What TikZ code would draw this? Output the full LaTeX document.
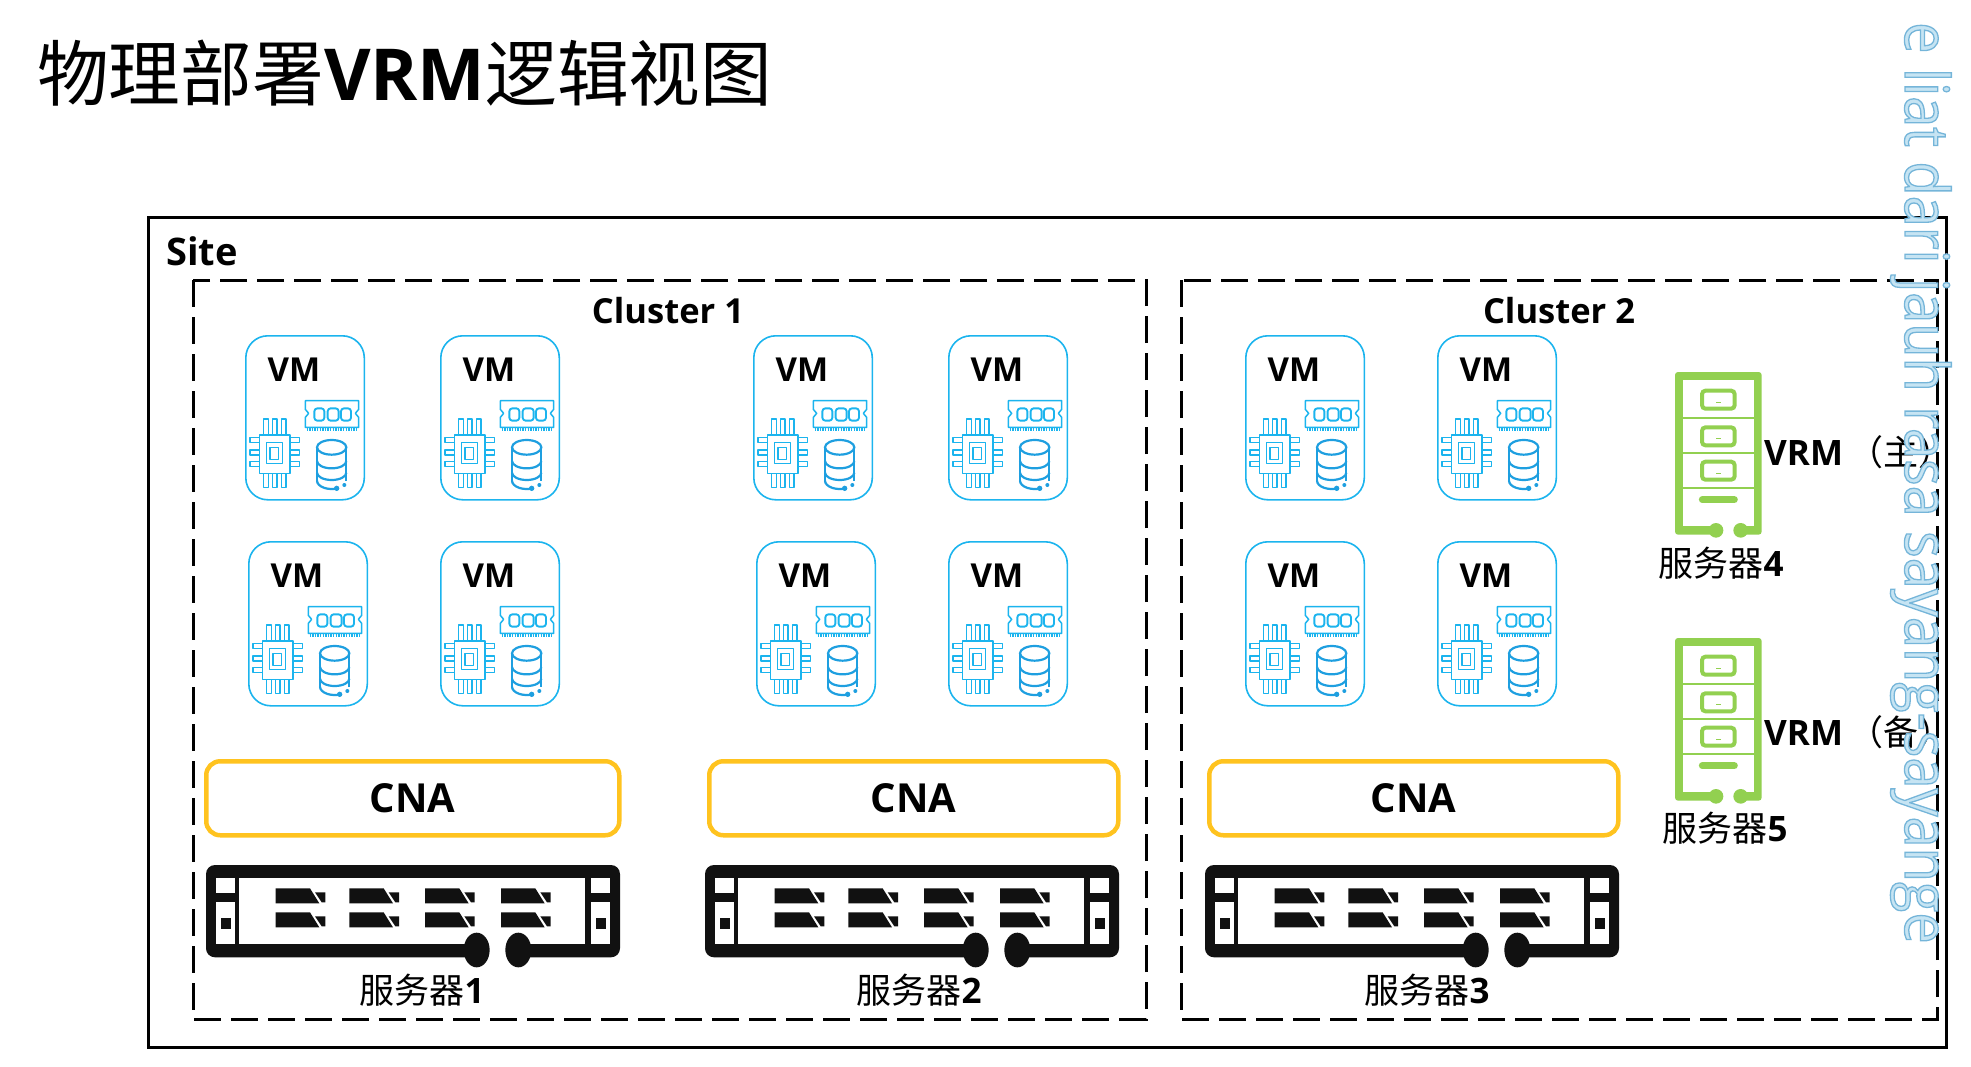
\documentclass[tikz,border=0pt]{standalone}
\usepackage{fontspec}
\setmainfont{Open Sans}
\newfontfamily\cjk{Noto Sans CJK SC}
\newfontfamily\wmfont[FakeStretch=0.915]{Open Sans}
\definecolor{vmcyan}{HTML}{1BB4EE}
\definecolor{dbblue}{HTML}{1E9FE0}
\definecolor{cnaorange}{HTML}{FFC31F}
\definecolor{srvgreen}{HTML}{92D050}
\definecolor{srvblack}{HTML}{111111}
\definecolor{wmfill}{HTML}{C6E4F3}
\newcommand{\fs}[1]{\fontsize{#1}{#1}\selectfont}
\tikzset{
  zoomed/.style={x=0.33333pt,y=-0.33333pt,shift={(#1)}},
  ic/.style={draw=vmcyan,line width=1.5pt,line join=round},
  dbl/.style={draw=dbblue,line width=2.2pt},
  lbl/.style={inner sep=0pt,text=black},
  bl/.style={lbl,font=\fs{#1}\bfseries},
  cj/.style={lbl,font=\fs{#1}\cjk},
  sitebox/.style={draw=black,line width=3pt},
  clusterbox/.style={draw=black,line width=3pt,dash pattern=on 27pt off 10pt},
  cnabox/.style={draw=cnaorange,line width=4.5pt,rounded corners=14pt,minimum width=413pt,minimum height=74pt,inner sep=0pt,anchor=north west,font=\fs{40}\bfseries},
  vmbox/.style={draw=vmcyan,line width=1.6pt,rounded corners=22pt,minimum width=118.5pt,minimum height=164pt,inner sep=0pt,anchor=north west,fill=white},
  vm/.pic={
    \begin{scope}[zoomed={-47,-45}]
      \node[vmbox] at (47,45) {};
      \node[bl=33] at (194,150) {VM};
      % cpu
      \draw[ic] (90,345) rectangle (182,460);
      \draw[ic] (112,368) rectangle (160,430);
      \draw[ic] (122,382) rectangle (148,418);
      \foreach \a/\b in {103/117,130/143,156/170}{
        \draw[ic] (\a,345) -- (\a,297) -- (\b,297) -- (\b,345);
        \draw[ic] (\a,460) -- (\a,502) -- (\b,502) -- (\b,460);
      }
      \foreach \a/\b in {352/368,390/405,425/440}{
        \draw[ic] (90,\a) -- (62,\a) -- (62,\b) -- (90,\b);
        \draw[ic] (182,\a) -- (210,\a) -- (210,\b) -- (182,\b);
      }
      % ram
      \draw[ic] (228,242) -- (388,242) -- (388,268) -- (378,280) -- (388,292) -- (388,322) -- (228,322) -- (228,292) -- (238,280) -- (228,268) -- cycle;
      \draw[draw=vmcyan,line width=3.6pt,dash pattern=on 1.4pt off 1.2pt] (232,329) -- (384,329);
      \foreach \a/\b in {255/285,295/328,335/365}{
        \draw[ic,line width=1.9pt,rounded corners=3pt] (\a,265) rectangle (\b,302);
      }
      % database
      \draw[dbl] (307,382) ellipse [x radius=44,y radius=22];
      \draw[dbl] (263,382) -- (263,482);
      \draw[dbl] (351,382) -- (351,482);
      \draw[dbl] (263,423) arc[start angle=180,end angle=0,x radius=44,y radius=22];
      \draw[dbl] (263,458) arc[start angle=180,end angle=0,x radius=44,y radius=22];
      \draw[dbl] (263,482) arc[start angle=180,end angle=70,x radius=44,y radius=25];
      \fill[dbblue] (322,505) circle[radius=8];
      \fill[dbblue] (345,495) circle[radius=6];
    \end{scope}
  },
  srv/.pic={
    \begin{scope}[zoomed={-48,-45}]
      \fill[srvblack,rounded corners=9pt] (48,45) rectangle (1290,322);
      \fill[white] (148,85) rectangle (1185,282);
      \fill[white] (78,85) rectangle (135,130);
      \fill[white] (78,155) rectangle (135,282);
      \fill[white] (1203,85) rectangle (1260,130);
      \fill[white] (1203,155) rectangle (1260,282);
      \fill[srvblack] (93,203) rectangle (122,238);
      \fill[srvblack] (1218,203) rectangle (1247,238);
      \foreach \a in {257,478,705,933}{
        \foreach \b in {0,72}{
          \fill[srvblack] (\a,115+\b) -- (\a+103,115+\b) -- (\a+131,160+\b) -- (\a,160+\b) -- cycle;
          \fill[srvblack] (\a+118,127+\b) -- (\a+149,127+\b) -- (\a+149,157+\b) -- (\a+138,157+\b) -- cycle;
        }
      }
      \fill[white] (860,278) rectangle (985,326);
      \fill[srvblack] (860,300) ellipse [x radius=39,y radius=52];
      \fill[srvblack] (985,300) ellipse [x radius=39,y radius=52];
    \end{scope}
  },
  vrmsrv/.pic={
    \begin{scope}[zoomed={-105,-67}]
      \fill[srvgreen,rounded corners=3pt] (105,67) rectangle (365,555);
      \fill[white] (130,90) rectangle (342,530);
      \fill[white] (228,525) rectangle (302,560);
      \foreach \y in {205,310,415}{
        \draw[srvgreen,line width=1.2pt] (130,\y) -- (342,\y);
      }
      \foreach \y in {117,227,330}{
        \draw[srvgreen,line width=4pt,rounded corners=3.5pt] (186,\y+6) rectangle (284,\y+60);
        \draw[srvgreen,line width=.8pt] (228,\y+40) -- (242,\y+40);
      }
      \draw[srvgreen,line width=7pt,line cap=round] (187,450) -- (283,450);
      \fill[srvgreen] (228,542) circle[radius=22];
      \fill[srvgreen] (302,542) circle[radius=22];
    \end{scope}
  }
}
\begin{document}
\begin{tikzpicture}[x=1pt,y=-1pt]
\useasboundingbox (0,0) rectangle (1971,1066);
% title
\node[lbl,anchor=west,font=\fs{71.7}] (title) at (37,73) {{\cjk 物理部署}\textbf{VRM}{\cjk 逻辑视图}};
% frames
\draw[sitebox] (148,217) rectangle (1946,1047);
\draw[clusterbox] (193,280) rectangle (1146,1019);
\draw[clusterbox] (1181,280) rectangle (1937,1019);
\node[bl=38,anchor=west] (site) at (166,251) {Site};
\node[bl=34.5] (c1) at (668,311) {Cluster 1};
\node[bl=34.5] (c2) at (1559,311) {Cluster 2};
% vms
\foreach \x in {245,440,753,948,1245,1437}{ \pic at (\x,335) {vm}; }
\foreach \x in {248,440,756,948,1245,1437}{ \pic at (\x,541) {vm}; }
% cna
\node[cnabox] (cna1) at (204,759) {CNA};
\node[cnabox,minimum width=409pt] (cna2) at (707,759) {CNA};
\node[cnabox,minimum width=409pt] (cna3) at (1207,759) {CNA};
% servers
\pic at (206,865) {srv};
\pic at (705,865) {srv};
\pic at (1205,865) {srv};
\node[lbl,font=\fs{35}] (s1) at (422,990) {{\cjk 服务器}\textbf{1}};
\node[lbl,font=\fs{35}] (s2) at (919,990) {{\cjk 服务器}\textbf{2}};
\node[lbl,font=\fs{35}] (s3) at (1427,990) {{\cjk 服务器}\textbf{3}};
% vrm
\pic at (1675,372) {vrmsrv};
\pic at (1675,638) {vrmsrv};
\node[lbl,font=\fs{35}] (s4) at (1721,563) {{\cjk 服务器}\textbf{4}};
\node[lbl,font=\fs{35}] (s5) at (1725,828) {{\cjk 服务器}\textbf{5}};
\node[lbl,anchor=west,font=\fs{35}] (vrm1) at (1764,452) {\textbf{VRM}\hspace{5pt}{\cjk （主）}};
\node[lbl,anchor=west,font=\fs{35}] (vrm2) at (1764,732) {\textbf{VRM}\hspace{5pt}{\cjk （备）}};
% watermark
\node[inner sep=0pt,rotate=-90,anchor=base west,text=wmfill,font=\fs{61}\wmfont] (wm) at (1905,22)
  {\special{pdf:code 2 Tr 1.3 w 0.46 0.71 0.85 RG}e liat dari jauh rasa sayang-sayange\special{pdf:code 0 Tr 0 G}};
\end{tikzpicture}
\end{document}
